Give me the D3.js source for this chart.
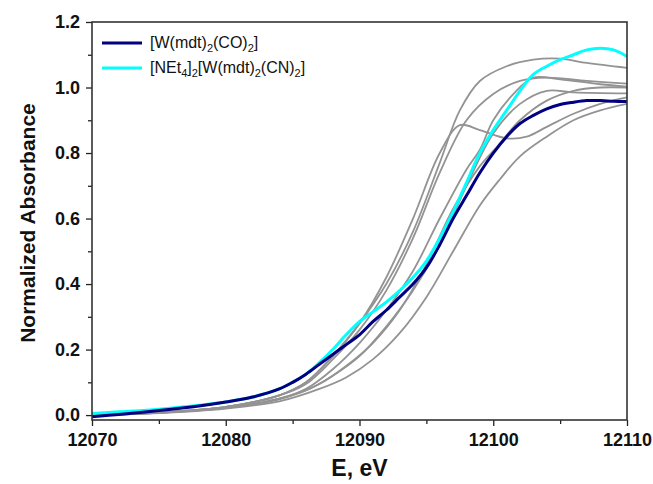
<!DOCTYPE html>
<html>
<head>
<meta charset="utf-8">
<script src="https://cdn.jsdelivr.net/npm/d3@7"></script>
<style>
  body { margin: 0; background: #fff; }
  text { font-family: "Liberation Sans", Arial, sans-serif; }
</style>
</head>
<body>
<script>
// energies (eV) and normalized absorbance for the two labelled complexes
var energyCO = [12070, 12072, 12075, 12078, 12080, 12082, 12084, 12085, 12086, 12087, 12088, 12089, 12090, 12091, 12092, 12093, 12094, 12095, 12096, 12097, 12098, 12099, 12100, 12101, 12102, 12103, 12104, 12105, 12106, 12107, 12108, 12109, 12110];
var absCO = [-0.005, 0.002, 0.014, 0.028, 0.04, 0.055, 0.08, 0.1, 0.125, 0.155, 0.185, 0.215, 0.245, 0.285, 0.32, 0.36, 0.4, 0.45, 0.52, 0.6, 0.67, 0.74, 0.8, 0.85, 0.89, 0.915, 0.935, 0.948, 0.955, 0.96, 0.96, 0.958, 0.957];

var energyCN = [12070, 12072, 12075, 12078, 12080, 12082, 12084, 12085, 12086, 12087, 12088, 12089, 12090, 12091, 12092, 12093, 12094, 12095, 12096, 12097, 12098, 12099, 12100, 12101, 12102, 12103, 12104, 12105, 12106, 12107, 12108, 12109, 12110];
var absCN = [0.005, 0.01, 0.018, 0.03, 0.04, 0.055, 0.08, 0.1, 0.125, 0.16, 0.2, 0.245, 0.285, 0.315, 0.345, 0.38, 0.42, 0.47, 0.54, 0.62, 0.71, 0.8, 0.87, 0.93, 0.99, 1.04, 1.065, 1.085, 1.1, 1.115, 1.12, 1.115, 1.095];

// grey reference spectra (unlabelled)
var grayE1 = [12070, 12075, 12080, 12084, 12086, 12088, 12090, 12092, 12094, 12096, 12097.5, 12099, 12101, 12103, 12105, 12107, 12110];
var grayA1 = [0.0, 0.008, 0.025, 0.06, 0.1, 0.18, 0.28, 0.4, 0.56, 0.77, 0.93, 1.02, 1.065, 1.085, 1.088, 1.075, 1.06];

var grayE2 = [12070, 12075, 12080, 12084, 12086, 12088, 12090, 12092, 12094, 12096, 12097.5, 12099, 12101, 12102.5, 12104, 12106, 12108, 12110];
var grayA2 = [0.0, 0.008, 0.025, 0.06, 0.1, 0.18, 0.28, 0.42, 0.6, 0.8, 0.885, 0.87, 0.845, 0.85, 0.88, 0.92, 0.95, 0.97];

var grayE3 = [12070, 12075, 12080, 12084, 12086, 12088, 12090, 12092, 12094, 12096, 12098, 12100, 12102, 12104, 12107, 12110];
var grayA3 = [0.0, 0.008, 0.025, 0.06, 0.095, 0.17, 0.26, 0.38, 0.54, 0.74, 0.9, 0.98, 1.02, 1.03, 1.02, 1.012];

var grayE4 = [12070, 12075, 12080, 12084, 12086, 12088, 12090, 12092, 12094, 12096, 12098, 12099, 12100, 12101.5, 12103, 12105, 12108, 12110];
var grayA4 = [0.0, 0.007, 0.022, 0.05, 0.08, 0.14, 0.22, 0.32, 0.44, 0.6, 0.75, 0.81, 0.9, 0.98, 1.03, 1.025, 1.01, 1.003];

var grayE5 = [12070, 12075, 12080, 12084, 12086, 12088, 12090, 12092, 12094, 12096, 12098, 12100, 12102, 12104, 12106, 12110];
var grayA5 = [0.0, 0.007, 0.022, 0.05, 0.075, 0.12, 0.18, 0.27, 0.38, 0.52, 0.7, 0.86, 0.95, 0.99, 0.985, 0.982];

var grayE6 = [12070, 12075, 12080, 12084, 12087, 12089, 12091, 12093, 12095, 12097, 12099, 12100.5, 12102, 12104, 12106, 12108, 12110];
var grayA6 = [0.0, 0.006, 0.02, 0.042, 0.08, 0.115, 0.17, 0.25, 0.36, 0.5, 0.64, 0.72, 0.79, 0.85, 0.9, 0.93, 0.95];

var grayE7 = [12070, 12075, 12080, 12084, 12087, 12089, 12091, 12093, 12095, 12097, 12099, 12100.3, 12102, 12104, 12106, 12108, 12110];
var grayA7 = [0.0, 0.007, 0.022, 0.048, 0.095, 0.15, 0.22, 0.32, 0.46, 0.63, 0.76, 0.82, 0.9, 0.96, 0.99, 1.0, 1.0];

var xTicks = [12070, 12080, 12090, 12100, 12110];
var xMinor = [12075, 12085, 12095, 12105];
var yTicks = [0.0, 0.2, 0.4, 0.6, 0.8, 1.0, 1.2];
var yMinor = [0.1, 0.3, 0.5, 0.7, 0.9, 1.1];

var width = 653;
var height = 484;
// note: "top" is a reserved window property, so use plot* names
var plotLeft = 92, plotRight = 627, plotTop = 22, plotBottom = 420;

var svg = d3.select("body")
    .append("svg")
    .attr("width", width)
    .attr("height", height);

var xScale = d3.scaleLinear()
    .domain([12070, 12110])
    .range([plotLeft, plotRight]);

var yScale = d3.scaleLinear()
    .domain([-0.015, 1.2])
    .range([plotBottom, plotTop]);

// clip so nothing spills over the frame
svg.append("clipPath")
    .attr("id", "plot-clip")
    .append("rect")
    .attr("x", plotLeft)
    .attr("y", plotTop)
    .attr("width", plotRight - plotLeft)
    .attr("height", plotBottom - plotTop);

var line = d3.line()
    .x(function(d){ return xScale(d[0]); })
    .y(function(d){ return yScale(d[1]); })
    .curve(d3.curveCatmullRom.alpha(0.5));

function pairs(es, as) {
    return es.map(function(e, i){ return [e, as[i]]; });
}

var grays = [
    pairs(grayE1, grayA1), pairs(grayE2, grayA2), pairs(grayE3, grayA3),
    pairs(grayE4, grayA4), pairs(grayE5, grayA5), pairs(grayE6, grayA6),
    pairs(grayE7, grayA7)
];

var plot = svg.append("g").attr("clip-path", "url(#plot-clip)");

plot.selectAll(".gray")
    .data(grays)
    .enter()
    .append("path")
    .attr("class", "gray")
    .attr("d", line)
    .attr("fill", "none")
    .attr("stroke", "#939393")
    .attr("stroke-width", 1.8);

plot.append("path")
    .datum(pairs(energyCN, absCN))
    .attr("d", line)
    .attr("fill", "none")
    .attr("stroke", "#00FFFF")
    .attr("stroke-width", 3);

plot.append("path")
    .datum(pairs(energyCO, absCO))
    .attr("d", line)
    .attr("fill", "none")
    .attr("stroke", "#000080")
    .attr("stroke-width", 3);

// axes - major ticks with labels, minor ticks without
var xAxis = d3.axisBottom(xScale)
    .tickValues(xTicks)
    .tickFormat(d3.format("d"))
    .tickSize(6)
    .tickPadding(7);

var xAxisMinor = d3.axisBottom(xScale)
    .tickValues(xMinor)
    .tickFormat("")
    .tickSize(4);

var yAxis = d3.axisLeft(yScale)
    .tickValues(yTicks)
    .tickFormat(d3.format(".1f"))
    .tickSize(6)
    .tickPadding(6);

var yAxisMinor = d3.axisLeft(yScale)
    .tickValues(yMinor)
    .tickFormat("")
    .tickSize(4);

svg.append("g")
    .attr("transform", "translate(0," + plotBottom + ")")
    .call(xAxisMinor);

svg.append("g")
    .attr("transform", "translate(" + plotLeft + ",0)")
    .call(yAxisMinor);

svg.append("g")
    .attr("class", "axis")
    .attr("transform", "translate(0," + plotBottom + ")")
    .call(xAxis);

svg.append("g")
    .attr("class", "axis")
    .attr("transform", "translate(" + plotLeft + ",0)")
    .call(yAxis);

svg.selectAll("g .tick line")
    .attr("stroke", "#222")
    .attr("stroke-width", 1.3);

svg.selectAll(".axis .tick text")
    .attr("fill", "#111")
    .attr("font-size", "18px")
    .attr("font-weight", "bold")
    .style("font-family", "'Liberation Sans', Arial, sans-serif");

svg.selectAll(".domain").remove();

// frame
svg.append("rect")
    .attr("x", plotLeft)
    .attr("y", plotTop)
    .attr("width", plotRight - plotLeft)
    .attr("height", plotBottom - plotTop)
    .attr("fill", "none")
    .attr("stroke", "#333")
    .attr("stroke-width", 1.6);

// axis titles
svg.append("text")
    .attr("x", (plotLeft + plotRight) / 2)
    .attr("y", 476)
    .attr("text-anchor", "middle")
    .attr("font-size", "23px")
    .attr("font-weight", "bold")
    .attr("fill", "#111")
    .text("E, eV");

svg.append("text")
    .attr("transform", "translate(35," + ((plotTop + plotBottom) / 2 + 2) + ") rotate(-90)")
    .attr("text-anchor", "middle")
    .attr("font-size", "21px")
    .attr("font-weight", "bold")
    .attr("fill", "#111")
    .text("Normalized Absorbance");

// legend with subscripts
var legend = [
    { color: "#000080", parts: [["[W(mdt)", 0], ["2", 1], ["(CO)", 0], ["2", 1], ["]", 0]] },
    { color: "#00FFFF", parts: [["[NEt", 0], ["4", 1], ["]", 0], ["2", 1], ["[W(mdt)", 0], ["2", 1], ["(CN)", 0], ["2", 1], ["]", 0]] }
];

var lg = svg.selectAll(".legend")
    .data(legend)
    .enter()
    .append("g")
    .attr("class", "legend")
    .attr("transform", function(d, i){ return "translate(102," + (43 + i * 25) + ")"; });

lg.append("line")
    .attr("x1", 0)
    .attr("x2", 40)
    .attr("stroke", function(d){ return d.color; })
    .attr("stroke-width", 3);

var lt = lg.append("text")
    .attr("x", 48)
    .attr("y", 5)
    .attr("font-size", "16px")
    .attr("fill", "#111");

lt.selectAll("tspan")
    .data(function(d){ return d.parts; })
    .enter()
    .append("tspan")
    .attr("font-size", function(p){ return p[1] ? "11px" : "16px"; })
    .attr("dy", function(p, i, nodes){
        var prev = i > 0 ? d3.select(nodes[i - 1]).datum()[1] : 0;
        return (p[1] - prev) * 4;
    })
    .text(function(p){ return p[0]; });
</script>
</body>
</html>
